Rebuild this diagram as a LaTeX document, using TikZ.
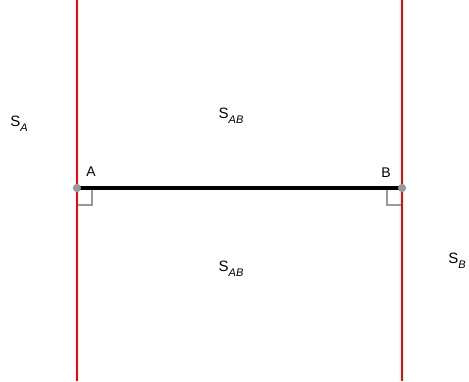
\documentclass[tikz,border=0pt]{standalone}
\usepackage{fontspec}
\setmainfont{Liberation Sans}
\newcommand{\subl}[1]{\raisebox{-5pt}{\fontsize{11}{11}\selectfont\textit{#1}}}
\begin{document}
\begin{tikzpicture}[x=1pt,y=-1pt,
  redline/.style={draw=red,line width=2.5pt},
  seg/.style={draw=black,line width=4.5pt},
  rightang/.style={draw=gray!80,line width=2.2pt},
  dotpt/.style={circle,fill=gray!80,inner sep=0pt,minimum size=8pt},
  lbl/.style={font=\fontsize{15}{15}\selectfont,inner sep=0pt},
  plbl/.style={font=\fontsize{14}{14}\selectfont,inner sep=0pt}]
\useasboundingbox (0,0) rectangle (469,381);
\coordinate (Atop) at (77,0);
\coordinate (Abot) at (77,381);
\coordinate (Btop) at (402,0);
\coordinate (Bbot) at (402,381);
\draw[redline] (Atop) -- (Abot);
\draw[redline] (Btop) -- (Bbot);
\node[dotpt] (A) at (77,188) {};
\node[dotpt] (B) at (402,188) {};
\draw[seg] (A.center) -- (B.center);
\node[dotpt] at (A) {};
\node[dotpt] at (B) {};
\coordinate (a1) at (92,190);
\coordinate (a2) at (92,205);
\coordinate (a3) at (78,205);
\coordinate (b1) at (387,190);
\coordinate (b2) at (387,205);
\coordinate (b3) at (401,205);
\draw[rightang] (a1) -- (a2) -- (a3);
\draw[rightang] (b1) -- (b2) -- (b3);
\node[plbl] (la) at (91,172) {A};
\node[plbl] (lb) at (386,173) {B};
\node[lbl] (sa) at (19,124) {S\subl{A}};
\node[lbl] (sab1) at (231,116) {S\subl{AB}};
\node[lbl] (sab2) at (231,269) {S\subl{AB}};
\node[lbl] (sb) at (457,261) {S\subl{B}};
\end{tikzpicture}
\end{document}
